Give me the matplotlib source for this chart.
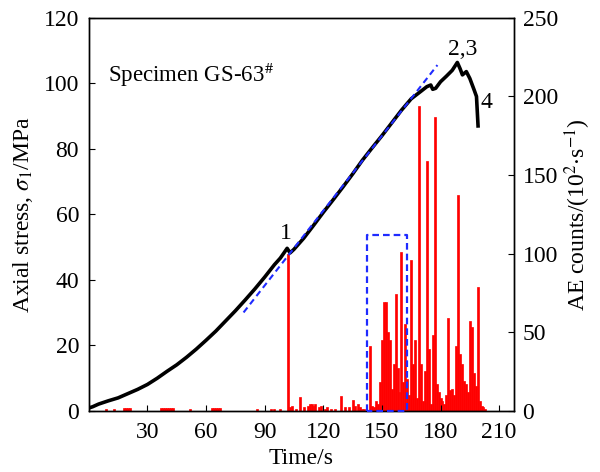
import matplotlib
matplotlib.use("Agg")
import matplotlib.pyplot as plt

plt.rcParams.update(
    {
        "font.family": "Liberation Serif",
        "mathtext.fontset": "stix",
        "font.size": 17,
        "axes.linewidth": 1.0,
        "xtick.direction": "in",
        "ytick.direction": "in",
        "xtick.major.size": 4.5,
        "ytick.major.size": 4.5,
    }
)

# axial stress curve (left axis)
stress_t = [0, 2, 5, 10, 15, 20, 25, 30, 35, 40, 45, 50, 55, 60, 65, 70, 75, 80,
            85, 90, 95, 98, 100, 101.5, 103, 105, 110, 115, 120, 125, 130, 135,
            140, 145, 150, 155, 160, 165, 170, 173, 175, 176, 177.5, 180, 183,
            186, 188.6, 190, 191.2, 193.2, 195, 197.2, 198.4, 199.2]
stress_v = [0.8, 1.2, 2.0, 3.0, 3.9, 5.2, 6.5, 8.0, 9.9, 12.0, 14.0, 16.3,
            18.8, 21.5, 24.3, 27.4, 30.5, 33.8, 37.2, 40.8, 44.6, 46.6, 48.3,
            49.6, 48.2, 49.3, 52.7, 56.6, 60.6, 64.4, 68.3, 72.3, 76.5, 80.3,
            84.0, 87.9, 91.8, 95.3, 97.6, 99.0, 99.5, 98.2, 98.5, 100.5, 102.2,
            104.0, 106.4, 104.5, 102.6, 103.6, 101.5, 98.0, 96.0, 87.0]

# AE counts per second (right axis)
ae_t = [9, 13, 18, 19, 20, 21, 37, 38, 39, 40, 41, 42, 43, 52, 63, 64, 65, 66,
        67, 86, 93, 95, 98,
        102, 103, 104, 106, 108, 110, 112, 113, 114, 115, 116, 118, 119, 121,
        122, 124, 126, 129, 131, 133, 135, 136, 138, 139, 140,
        141, 144, 145, 146, 147, 148, 149, 150, 151, 152, 153, 154, 155, 156,
        157, 158, 159, 160, 161, 162, 163, 164, 165, 166, 167, 168, 169, 170,
        171, 172, 173, 174, 175, 176, 177, 178, 179, 180, 181, 182, 183, 184,
        185, 186, 187, 188, 189, 190, 191, 192, 193, 194, 195, 196, 197, 198,
        199, 200, 201, 202, 203]
ae_v = [1, 1, 1.5, 1.5, 1.5, 1.5, 1.5, 1.5, 1.5, 1.5, 1.5, 1.5, 1.5, 1, 1.5,
        1.5, 1.5, 1.5, 1.5, 1, 1, 1, 1,
        100, 2, 3, 1, 9, 2, 3, 4, 4, 3, 4, 2, 3, 1,
        2, 1, 1, 9.5, 2, 2, 7, 3, 4, 2, 1,
        1, 41, 3, 2, 6, 4, 18, 45, 69, 69, 50, 45, 14, 30,
        74, 27, 12, 101, 18, 55, 20, 10, 96, 30, 45, 8, 194, 30,
        6, 25, 159, 39, 4, 48, 187, 17, 12, 8, 6, 4, 10, 59,
        13, 14, 10, 41, 137, 36, 30, 19, 17, 12, 57, 53, 24, 16,
        79, 6, 3, 2, 1]

# fitted straight segment and highlighted window
fit_t = [79.2, 178.4]
fit_v = [30.0, 105.6]
box_t = [142.4, 162.7]
box_top = 53.8

fig, ax = plt.subplots(figsize=(6.0, 4.72), dpi=100)
fig.subplots_adjust(left=0.148, right=0.857, bottom=0.13, top=0.962)
ax2 = ax.twinx()

ax2.bar(ae_t, ae_v, width=1.0, color="#FF0000", edgecolor="#FF0000",
        linewidth=0.5, zorder=2)
ax2.set_ylim(0, 250)
ax2.set_yticks([0, 50, 100, 150, 200, 250])
ax2.tick_params(axis="y", direction="in", pad=6)
ax2.set_ylabel(r"AE counts/(10$^{2}$$\cdot$s$^{-1}$)", labelpad=3)

ax.set_zorder(ax2.get_zorder() + 1)
ax.patch.set_visible(False)

ax.plot(stress_t, stress_v, color="black", lw=2.6, solid_joinstyle="round", zorder=3)
ax.plot(fit_t, fit_v, color="#1F2BFF", lw=1.5, ls=(0, (3, 2)), zorder=4)
ax.plot([box_t[0], box_t[0], box_t[1], box_t[1], box_t[0]],
        [0, box_top, box_top, 0, 0], color="#1F2BFF", lw=1.6,
        ls=(0, (3, 1.8)), zorder=4, clip_on=False)

ax.set_xlim(0, 217.7)
ax.set_ylim(0, 120)
ax.set_xticks([30, 60, 90, 120, 150, 180, 210])
ax.set_yticks([0, 20, 40, 60, 80, 100, 120])
ax.tick_params(axis="x", pad=8)
ax.tick_params(axis="y", pad=7)
ax.set_xlabel("Time/s", labelpad=4)
ax.set_ylabel(r"Axial stress, $\sigma_1$/MPa", labelpad=6)

ax.text(10, 100.5, r"Specimen GS-63$^{\#}$", fontsize=16.5)
ax.text(100.8, 51, "1", ha="center", va="bottom")
ax.text(191.5, 107, "2,3", ha="center", va="bottom")
ax.text(203.3, 91, "4", ha="center", va="bottom")

fig.savefig("out.png", dpi=100)
